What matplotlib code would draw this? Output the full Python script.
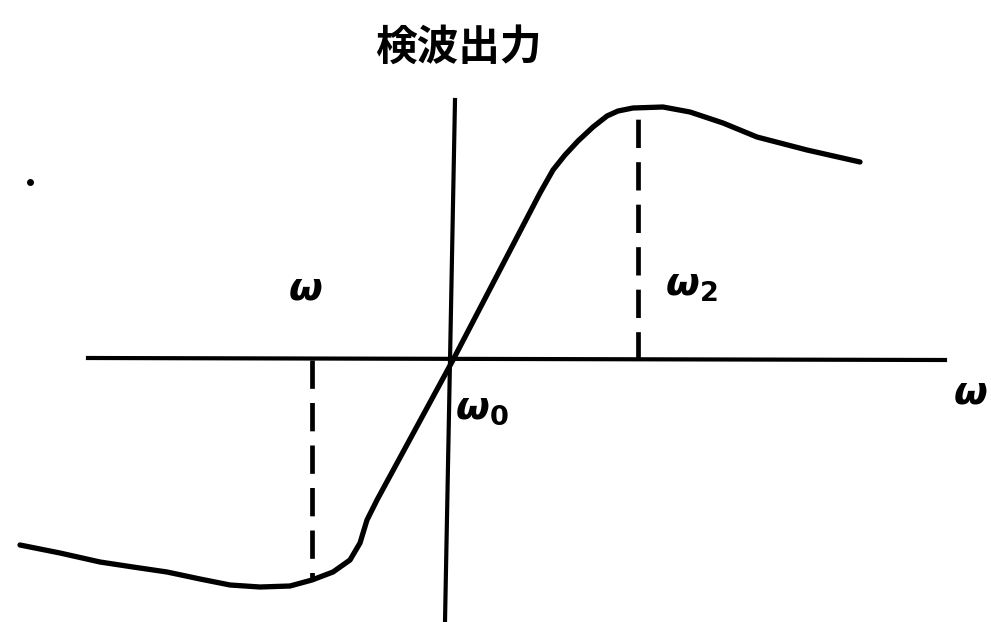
import matplotlib.pyplot as plt

plt.rcParams['font.family'] = ['Noto Sans CJK JP', 'DejaVu Sans']

# curve: frequency offset from w0, detector output
freq = [-433, -393, -353, -320, -286, -253, -223, -193, -163, -141, -120, -103,
        -93, -86, -76, 0, 87, 100, 112, 125, 140, 154, 165, 180, 210, 237,
        270, 304, 354, 407]
output = [-185, -193, -202, -207, -212, -219, -225, -227, -226, -220, -212, -200,
          -183, -160, -140, 0, 167, 190, 205, 219, 233, 244, 249, 252, 253, 248,
          237, 223, 210, 198]

# peak positions (w1 low side, w2 high side)
w1, w1_out = -141, -220
w2, w2_out = 185, 252

fig = plt.figure(figsize=(9.91, 6.22), dpi=100)
ax = fig.add_axes([0, 0, 1, 1])
ax.set_xlim(-453, 538)
ax.set_ylim(-262, 360)
ax.axis('off')

# axes of the diagram
ax.plot([-365, 492], [2, 0], color='black', lw=3)
ax.plot([2, -8], [260, -262], color='black', lw=3)

ax.plot(freq, output, color='black', lw=3.8, solid_capstyle='round', solid_joinstyle='round')

# dashed drop lines at the peaks
ax.plot([w1, w1], [0, w1_out], color='black', lw=3.4, linestyle=(0, (6, 3)))
ax.plot([w2, w2], [0, w2_out - 6], color='black', lw=3.4, linestyle=(0, (6, 3)))

ax.text(5, 312, '検波出力', fontsize=30, fontweight='bold', ha='center', va='center')

ax.text(-148, 72, r'$\boldsymbol{\omega}$', fontsize=28, ha='center', va='center')
ax.text(212, 75, r'$\boldsymbol{\omega}_\mathbf{2}$', fontsize=28, ha='left', va='center')
ax.text(2, -48, r'$\boldsymbol{\omega}_\mathbf{0}$', fontsize=28, ha='left', va='center')
ax.text(500, -32, r'$\boldsymbol{\omega}$', fontsize=28, ha='left', va='center')

# specks from the scan
ax.plot([-423], [178], marker='o', color='black', ms=4)

fig.savefig('out.png', dpi=100)
